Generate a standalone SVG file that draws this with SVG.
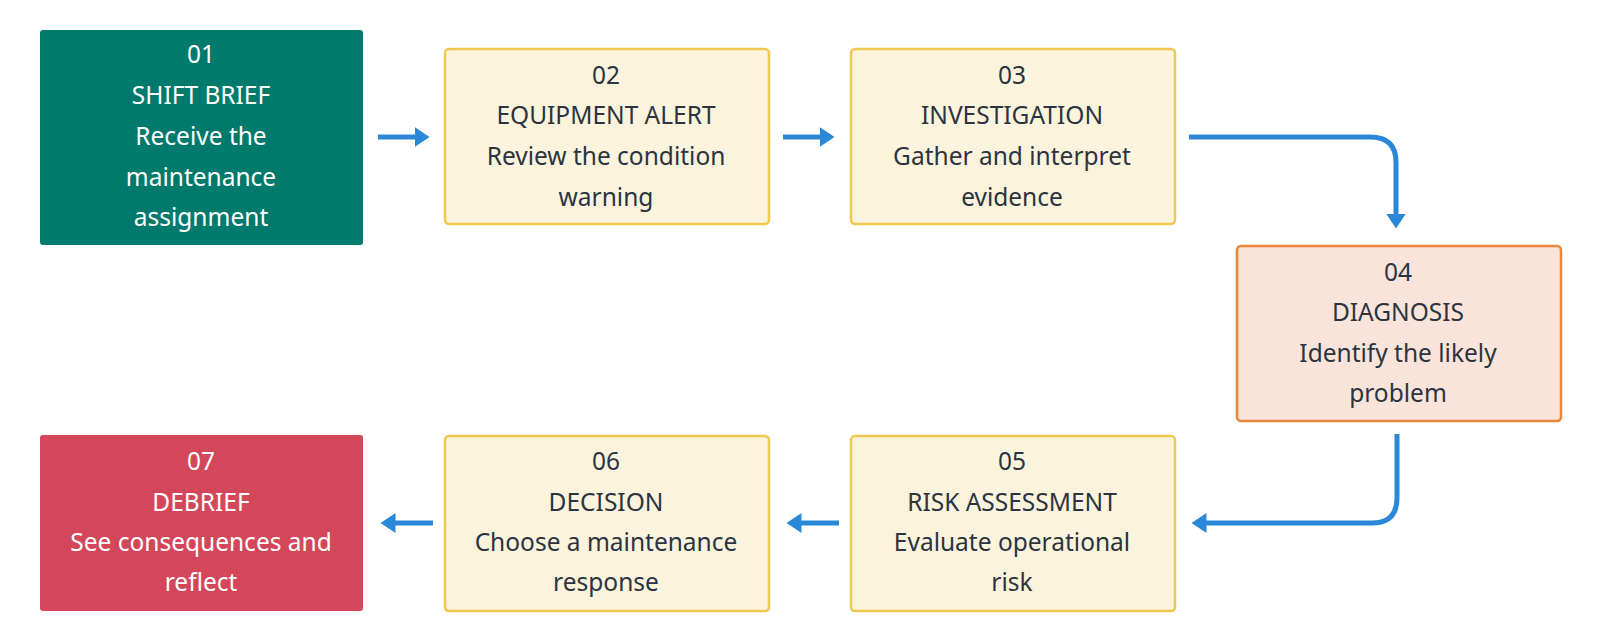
<svg xmlns="http://www.w3.org/2000/svg" width="1600" height="640" viewBox="0 0 1600 640">
<style>
text{font-family:"Noto Sans","Liberation Sans",sans-serif;font-size:24.5px;text-anchor:middle;dominant-baseline:central;fill:#2B3440}
.w{fill:#ffffff}
.y{fill:#FBF3DC;stroke:#F0C850;stroke-width:2.5}
.c{fill:none;stroke:#2B87D8;stroke-width:5;marker-end:url(#a)}
</style>
<defs><marker id="a" markerWidth="4" markerHeight="4" refX="1.5" refY="2" orient="auto"><path d="M0,0L3,2L0,4Z" fill="#2B87D8"/></marker></defs>
<rect width="1600" height="640" fill="#fff"/>
<g id="n1"><rect x="40" y="30" width="323" height="215" rx="3" fill="#007A6C"/>
<text class="w" x="201" y="53">01</text><text class="w" x="201" y="94">SHIFT BRIEF</text><text class="w" x="201" y="135">Receive the</text><text class="w" x="201" y="176">maintenance</text><text class="w" x="201" y="216">assignment</text></g>
<g id="n2"><rect class="y" x="445" y="49" width="324" height="175" rx="4"/>
<text x="606" y="74">02</text><text x="606" y="114">EQUIPMENT ALERT</text><text x="606" y="155">Review the condition</text><text x="606" y="196">warning</text></g>
<g id="n3"><rect class="y" x="851" y="49" width="324" height="175" rx="4"/>
<text x="1012" y="74">03</text><text x="1012" y="114">INVESTIGATION</text><text x="1012" y="155">Gather and interpret</text><text x="1012" y="196">evidence</text></g>
<g id="n4"><rect x="1237" y="246" width="324" height="175" rx="4" fill="#FAE3D8" stroke="#E8873A" stroke-width="2.5"/>
<text x="1398" y="271">04</text><text x="1398" y="311">DIAGNOSIS</text><text x="1398" y="352">Identify the likely</text><text x="1398" y="392">problem</text></g>
<g id="n5"><rect class="y" x="851" y="436" width="324" height="175" rx="4"/>
<text x="1012" y="460">05</text><text x="1012" y="501">RISK ASSESSMENT</text><text x="1012" y="541">Evaluate operational</text><text x="1012" y="581">risk</text></g>
<g id="n6"><rect class="y" x="445" y="436" width="324" height="175" rx="4"/>
<text x="606" y="460">06</text><text x="606" y="501">DECISION</text><text x="606" y="541">Choose a maintenance</text><text x="606" y="581">response</text></g>
<g id="n7"><rect x="40" y="435" width="323" height="176" rx="3" fill="#D4475A"/>
<text class="w" x="201" y="460">07</text><text class="w" x="201" y="501">DEBRIEF</text><text class="w" x="201" y="541">See consequences and</text><text class="w" x="201" y="581">reflect</text></g>
<g id="connectors">
<path class="c" d="M378,137H422"/>
<path class="c" d="M783,137H827"/>
<path class="c" d="M1189,137H1370Q1396,137 1396,162V221"/>
<path class="c" d="M1397,434V498Q1397,523 1372,523H1199"/>
<path class="c" d="M839,523H794"/>
<path class="c" d="M433,523H388"/>
</g>
</svg>
